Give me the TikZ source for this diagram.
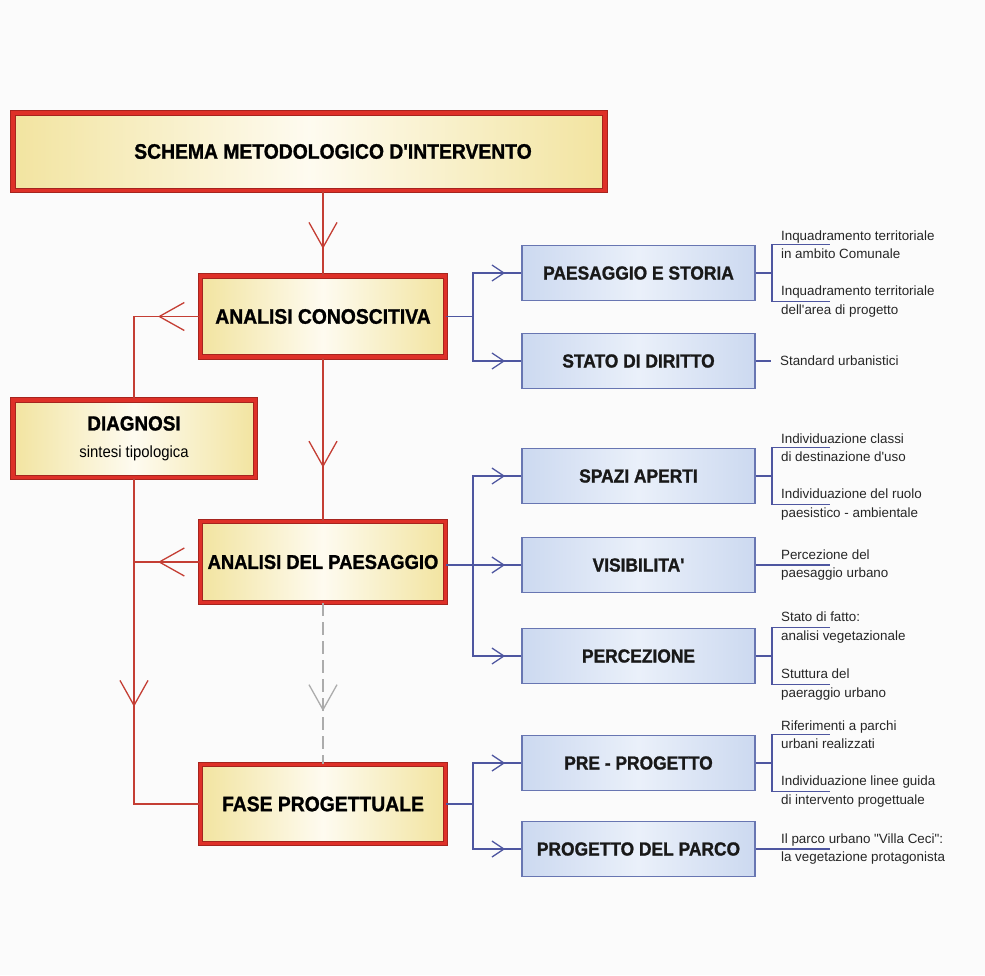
\documentclass[tikz,border=0pt]{standalone}
\usepackage{fontspec}
\setmainfont{Liberation Sans}[Ligatures=TeXOff]
\newfontfamily\boxfont{Liberation Sans}[Ligatures=TeXOff, FakeStretch=0.92,
  BoldFeatures={FakeBold=1.2}]
\usetikzlibrary{arrows.meta,calc,positioning,decorations.markings}

\definecolor{boxred}{RGB}{222,48,40}
\definecolor{boxyel}{RGB}{242,228,160}
\definecolor{boxmid}{RGB}{254,251,240}
\definecolor{boxblue}{RGB}{204,217,240}
\definecolor{bluemid}{RGB}{234,240,250}
\definecolor{blueedge}{RGB}{104,118,178}
\definecolor{linered}{RGB}{196,62,52}
\definecolor{lineblue}{RGB}{78,86,160}
\definecolor{linegray}{RGB}{172,172,172}
\definecolor{paper}{RGB}{251,251,251}

\begin{document}
\begin{tikzpicture}[
    x=1pt, y=-1pt,
    redbox/.style  = {draw=boxred!75!black, line width=1pt,
                      double=boxred, double distance=3.5pt,
                      left color=boxyel, right color=boxyel, middle color=boxmid,
                      minimum width=245pt, minimum height=81pt, align=center,
                      font=\boxfont\bfseries\fontsize{21}{27}\selectfont},
    bluebox/.style = {draw=blueedge, line width=1.8pt,
                      left color=boxblue, right color=boxblue, middle color=bluemid,
                      minimum width=233pt, minimum height=55pt,
                      text=black!90, font=\boxfont\bfseries\fontsize{18.9}{22}\selectfont},
    note/.style    = {anchor=west, inner sep=0pt, align=left, text=black!85,
                      font=\fontsize{13.4}{18.5}\selectfont},
    rline/.style   = {color=linered, line width=1.3pt},
    bline/.style   = {color=lineblue, line width=1.3pt},
    gline/.style   = {color=linegray, line width=1.3pt, dash pattern=on 13pt off 6pt},
    redtip/.style  = {postaction={decorate}, decoration={markings,
                      mark=at position #1 with {\arrow{Straight Barb[length=25pt,width=28pt]}}}},
    bluetip/.style = {postaction={decorate}, decoration={markings,
                      mark=at position -16pt with {\arrow{Straight Barb[length=12pt,width=16pt]}}}}
  ]

  \fill[paper] (0,0) rectangle (985,975);
  \useasboundingbox (0,0) rectangle (985,975);

  % left column
  \node[redbox, minimum width=592pt, minimum height=77.5pt] (title) at (309,151.5)
       {\hspace{48pt}SCHEMA METODOLOGICO D'INTERVENTO};
  \node[redbox] (ac) at (323,316.5) {ANALISI CONOSCITIVA};
  \node[redbox, minimum width=242.5pt, minimum height=77.5pt] (dg) at (134,438.5)
       {\fontsize{20.5}{27}\selectfont DIAGNOSI\\{\mdseries\fontsize{16.2}{27}\selectfont sintesi tipologica}};
  \node[redbox, font=\boxfont\bfseries\fontsize{20}{27}\selectfont] (ap) at (323,562)
       {ANALISI DEL PAESAGGIO};
  \node[redbox, minimum height=79pt] (fp) at (323,804) {FASE PROGETTUALE};

  % right column
  \node[bluebox] (ps) at (638.5,273) {PAESAGGIO E STORIA};
  \node[bluebox] (sd) at (638.5,361) {STATO DI DIRITTO};
  \node[bluebox] (sa) at (638.5,476) {SPAZI APERTI};
  \node[bluebox] (vi) at (638.5,565) {VISIBILITA'};
  \node[bluebox] (pe) at (638.5,656) {PERCEZIONE};
  \node[bluebox] (pp) at (638.5,763) {PRE - PROGETTO};
  \node[bluebox] (pc) at (638.5,849) {PROGETTO DEL PARCO};

  % notes
  \node[note] (ps1) at ([xshift=25pt]ps.north east) {Inquadramento territoriale\\in ambito Comunale};
  \node[note] (ps2) at ([xshift=25pt]ps.south east) {Inquadramento territoriale\\dell'area di progetto};
  \node[note] (sd1) at ([xshift=24pt]sd.east) {Standard urbanistici};
  \node[note] (sa1) at ([xshift=25pt]sa.north east) {Individuazione classi\\di destinazione d'uso};
  \node[note] (sa2) at ([xshift=25pt]sa.south east) {Individuazione del ruolo\\paesistico - ambientale};
  \node[note] (vi1) at ([xshift=25pt]vi.east) {Percezione del\\paesaggio urbano};
  \node[note] (pe1) at ([xshift=25pt]pe.north east) {Stato di fatto:\\analisi vegetazionale};
  \node[note] (pe2) at ([xshift=25pt]pe.south east) {Stuttura del\\paeraggio urbano};
  \node[note] (pp1) at ([xshift=25pt]pp.north east) {Riferimenti a parchi\\urbani realizzati};
  \node[note] (pp2) at ([xshift=25pt]pp.south east) {Individuazione linee guida\\di intervento progettuale};
  \node[note] (pc1) at ([xshift=25pt]pc.east) {Il parco urbano "Villa Ceci":\\la vegetazione protagonista};

  % red flow
  \draw[rline, redtip=58pt] (title.south -| ac.north) -- (ac.north);
  \draw[rline, redtip=110pt] (ac) -- (ap);
  \draw[gline, redtip=108pt] (ap) -- (fp);
  \draw[rline, redtip=42pt] (ac.west) -| (dg.north);
  \draw[rline, redtip=42pt] (ap.west) -- (ap.west -| dg.south);
  \draw[rline, redtip=229pt] (dg.south) |- (fp.west);

  % blue branches
  \foreach \n in {ps,sd} \draw[bline, bluetip] (ac.east) -- ++(27,0) |- (\n.west);
  \foreach \n in {sa,vi,pe} \draw[bline, bluetip] (ap.east |- vi.west) -- ++(27,0) |- (\n.west);
  \foreach \n in {pp,pc} \draw[bline, bluetip] (fp.east) -- ++(27,0) |- (\n.west);

  % brackets to the notes
  \foreach \n in {ps,sa,pe,pp} {
    \draw[bline] (\n.east) -- ++(16,0);
    \draw[bline] ([xshift=49pt]\n1.west) -- ([xshift=-9pt]\n1.west)
                 -- ([xshift=-9pt]\n2.west) -- ([xshift=49pt]\n2.west);
  }
  \draw[bline] (sd.east) -- ([xshift=-9pt]sd1.west);
  \draw[bline] (vi.east) -- ([xshift=49pt]vi1.west);
  \draw[bline] (pc.east) -- ([xshift=49pt]pc1.west);

\end{tikzpicture}
\end{document}
